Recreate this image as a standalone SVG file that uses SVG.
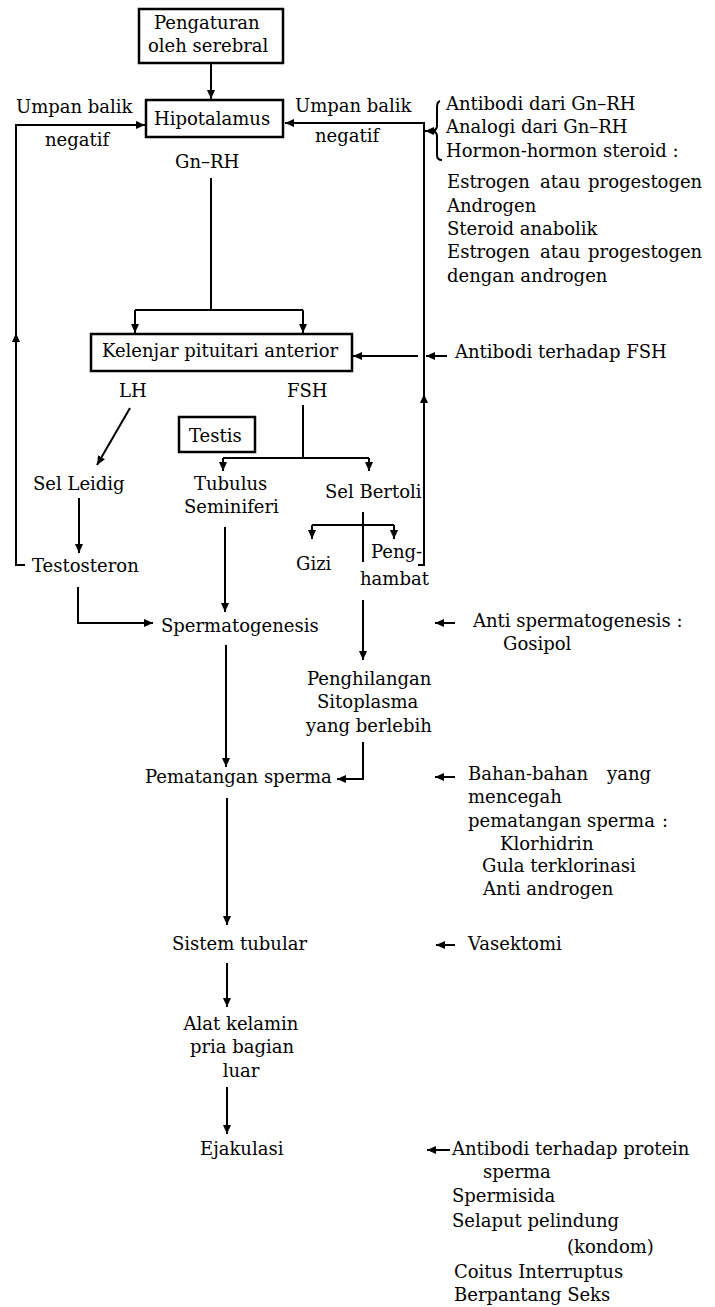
<svg xmlns="http://www.w3.org/2000/svg" width="715" height="1307" viewBox="0 0 715 1307">
<defs>
<marker id="ah" markerUnits="userSpaceOnUse" markerWidth="10" markerHeight="8" refX="9" refY="4" orient="auto"><path d="M0,0 L9,4 L0,8 z" fill="#000"/></marker>
<style>
text{font-family:"DejaVu Serif","Liberation Serif",serif;font-size:18px;fill:#000}
.box{fill:#fff;stroke:#000;stroke-width:2.5}
.c{fill:none;stroke:#000;stroke-width:2}
.a{fill:none;stroke:#000;stroke-width:2;marker-end:url(#ah)}
.m{text-anchor:middle}
</style>
</defs>
<rect width="715" height="1307" fill="#fff"/>
<g id="connectors">
<path class="a" d="M211,63 V99"/>
<path class="c" d="M211,178 V310 M135,310 H303"/>
<path class="a" d="M135,310 V333"/>
<path class="a" d="M303,310 V333"/>
<path class="a" d="M130,408 L97,465"/>
<path class="c" d="M303,405 V458 M223,458 H369"/>
<path class="a" d="M223,458 V471"/>
<path class="a" d="M369,458 V471"/>
<path class="a" d="M79,498 V553"/>
<path class="c" d="M363,512 V562 M312,525 H394"/>
<path class="a" d="M312,525 V539"/>
<path class="a" d="M394,525 V539"/>
<path class="a" d="M78,587 V623 H153"/>
<path class="a" d="M225,527 V612"/>
<path class="a" d="M363,600 V660"/>
<path class="a" d="M226,645 V767"/>
<path class="a" d="M363,742 V779 H337"/>
<path class="a" d="M227,798 V925"/>
<path class="a" d="M227,963 V1007"/>
<path class="a" d="M227,1087 V1134"/>
<path class="a" d="M25,565 H16 V333"/>
<path class="a" d="M16,340 V125 H145"/>
<path class="a" d="M418,565 H424 V394"/>
<path class="a" d="M424,400 V123 H285"/>
<path class="c" d="M440,101 Q437,102 437,107 V126 Q437,130 432,131 Q437,132 437,136 V155 Q437,160 442,160"/>
<path class="a" d="M436,131 H425"/>
<path class="a" d="M418,356 H353"/>
<path class="a" d="M447,356 H426"/>
<path class="a" d="M455,623 H435"/>
<path class="a" d="M455,777 H435"/>
<path class="a" d="M455,945 H436"/>
<path class="a" d="M450,1150 H427"/>
</g>
<g id="n-serebral"><rect class="box" x="139" y="9" width="144" height="54"/><text x="154" y="29">Pengaturan</text><text x="148" y="52">oleh serebral</text></g>
<g id="n-hipotalamus"><rect class="box" x="146" y="100" width="137" height="37"/><text x="154" y="125">Hipotalamus</text></g>
<g id="l-umpan-kiri"><text x="16" y="113">Umpan balik</text><text x="45" y="146">negatif</text></g>
<g id="l-umpan-kanan"><text x="295" y="112">Umpan balik</text><text x="315" y="142">negatif</text></g>
<g id="l-gnrh"><text x="175" y="168">Gn–RH</text></g>
<g id="n-hormon"><text x="446" y="110">Antibodi dari Gn–RH</text><text x="446" y="133">Analogi dari Gn–RH</text><text x="446" y="157">Hormon-hormon steroid :</text>
<text y="188"><tspan x="447">Estrogen</tspan><tspan x="540">atau</tspan><tspan x="588">progestogen</tspan></text>
<text x="447" y="212">Androgen</text><text x="447" y="235">Steroid anabolik</text>
<text y="258"><tspan x="447">Estrogen</tspan><tspan x="540">atau</tspan><tspan x="588">progestogen</tspan></text>
<text x="447" y="282">dengan androgen</text></g>
<g id="n-pituitari"><rect class="box" x="91" y="334" width="261" height="37"/><text x="102" y="357">Kelenjar pituitari anterior</text></g>
<g id="n-fsh-antibodi"><text x="455" y="358">Antibodi terhadap FSH</text></g>
<g id="l-lh"><text x="119" y="397">LH</text></g>
<g id="l-fsh"><text x="287" y="397">FSH</text></g>
<g id="n-testis"><rect class="box" x="179" y="417" width="76" height="35"/><text x="189" y="442">Testis</text></g>
<g id="n-leidig"><text x="33" y="490">Sel Leidig</text></g>
<g id="n-tubulus"><text x="194" y="490">Tubulus</text><text x="184" y="513">Seminiferi</text></g>
<g id="n-bertoli"><text x="325" y="498">Sel Bertoli</text></g>
<g id="n-testosteron"><text x="32" y="572">Testosteron</text></g>
<g id="n-gizi"><text x="296" y="570">Gizi</text></g>
<g id="n-penghambat"><text x="371" y="558">Peng-</text><text x="360" y="585">hambat</text></g>
<g id="n-spermatogenesis"><text x="161" y="632">Spermatogenesis</text></g>
<g id="n-anti-sperm"><text x="473" y="627">Anti spermatogenesis :</text><text x="503" y="650">Gosipol</text></g>
<g id="n-penghilangan"><text x="307" y="685">Penghilangan</text><text x="317" y="708">Sitoplasma</text><text x="306" y="732">yang berlebih</text></g>
<g id="n-pematangan"><text x="145" y="783">Pematangan sperma</text></g>
<g id="n-bahan"><text y="780"><tspan x="468">Bahan-bahan</tspan><tspan x="607">yang</tspan></text><text x="468" y="803">mencegah</text>
<text y="827"><tspan x="468">pematangan sperma</tspan><tspan x="662">:</tspan></text>
<text x="500" y="850">Klorhidrin</text><text x="482" y="872">Gula terklorinasi</text><text x="483" y="895">Anti androgen</text></g>
<g id="n-sistem"><text x="172" y="950">Sistem tubular</text></g>
<g id="n-vasektomi"><text x="468" y="950">Vasektomi</text></g>
<g id="n-alat"><text class="m" x="241" y="1030">Alat kelamin</text><text class="m" x="242" y="1053">pria bagian</text><text class="m" x="241" y="1077">luar</text></g>
<g id="n-ejakulasi"><text x="200" y="1155">Ejakulasi</text></g>
<g id="n-protein"><text x="452" y="1155">Antibodi terhadap protein</text><text x="483" y="1178">sperma</text><text x="452" y="1202">Spermisida</text><text x="452" y="1227">Selaput pelindung</text><text x="567" y="1253">(kondom)</text><text x="454" y="1278">Coitus Interruptus</text><text x="454" y="1301">Berpantang Seks</text></g>
</svg>
